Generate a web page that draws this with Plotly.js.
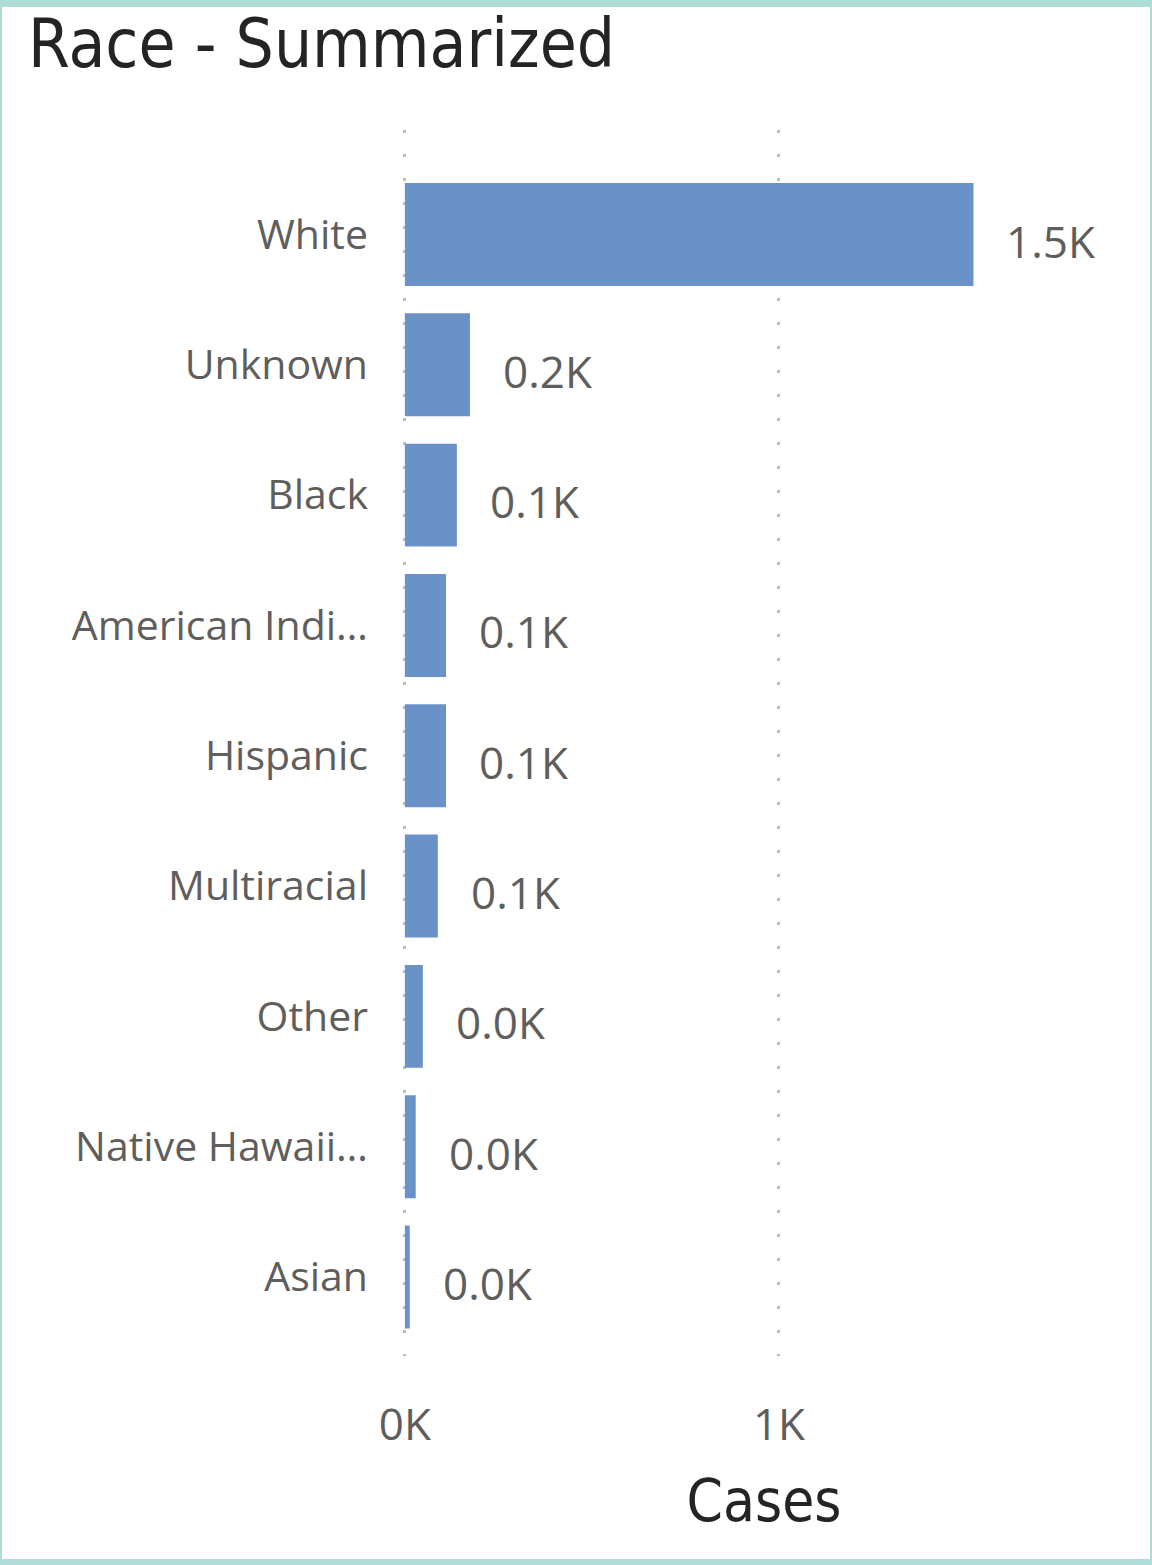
<!DOCTYPE html>
<html>
<head>
<meta charset="utf-8">
<script src="https://cdn.plot.ly/plotly-3.0.1.min.js"></script>
<style>
  html, body { margin: 0; padding: 0; background: #ffffff; }
  #frame { position: absolute; left: 0; top: 0; width: 1152px; height: 1565px; box-sizing: border-box;
           border-top: 7px solid #afdcd6; border-bottom: 6px solid #afdcd6; border-left: 2px solid #afdcd6; border-right: 2px solid #afdcd6; }
  #chart { position: absolute; left: 0; top: 0; width: 1152px; height: 1565px; }
</style>
</head>
<body>
<div id="frame"></div>
<div id="chart"></div>
<script>
const categories = ["White", "Unknown", "Black", "American Indi…", "Hispanic", "Multiracial", "Other", "Native Hawaii…", "Asian"];
const cases = [1520, 174, 139, 110, 110, 88, 48, 29, 13];
const xTickVals = [0, 1000];
const xTickText = ["0K", "1K"];

const labelText = cases.map(v => (v / 1000).toFixed(1) + "K");

const trace = {
  type: "bar",
  orientation: "h",
  y: categories,
  x: cases,
  marker: { color: "#6a92c8" },
  hoverinfo: "x+y"
};

const annotations = cases.map((v, i) => ({
  x: v, y: categories[i], xref: "x", yref: "y",
  text: labelText[i], showarrow: false,
  xanchor: "left", yanchor: "middle", xshift: 31, yshift: -6,
  font: { family: "Open Sans, Noto Sans, sans-serif", size: 44, color: "#605e5c" }
}));

const layout = {
  width: 1152, height: 1565,
  paper_bgcolor: "rgba(0,0,0,0)", plot_bgcolor: "rgba(0,0,0,0)",
  margin: { l: 403, r: 27, t: 130, b: 209, pad: 0 },
  showlegend: false,
  bargap: 0.21,
  title: {
    text: "Race - Summarized",
    x: 28 / 1152, xref: "container", xanchor: "left",
    y: 1 - 44 / 1565, yref: "container", yanchor: "middle",
    font: { family: "DejaVu Sans Condensed, DejaVu Sans, sans-serif", size: 67, color: "#252423" }
  },
  xaxis: {
    range: [-5, 1925],
    tickvals: xTickVals, ticktext: xTickText,
    showgrid: true, gridcolor: "#bdbdbd", gridwidth: 3, griddash: "3px,21px",
    zeroline: false, showline: false, ticks: "",
    ticklabelstandoff: 39,
    tickfont: { family: "Open Sans, Noto Sans, sans-serif", size: 44, color: "#605e5c" },
    title: {
      text: "Cases", standoff: 28,
      font: { family: "DejaVu Sans Condensed, DejaVu Sans, sans-serif", size: 58, color: "#252423" }
    },
    fixedrange: true
  },
  yaxis: {
    type: "category",
    categoryorder: "array", categoryarray: categories,
    range: [8.606, -0.802],
    showgrid: false, zeroline: false, showline: false, ticks: "",
    ticklabelstandoff: 34,
    tickfont: { family: "Open Sans, Noto Sans, sans-serif", size: 41, color: "#605e5c" },
    fixedrange: true
  },
  annotations: annotations
};

Plotly.newPlot("chart", [trace], layout, { displayModeBar: false, staticPlot: true });
</script>
</body>
</html>
